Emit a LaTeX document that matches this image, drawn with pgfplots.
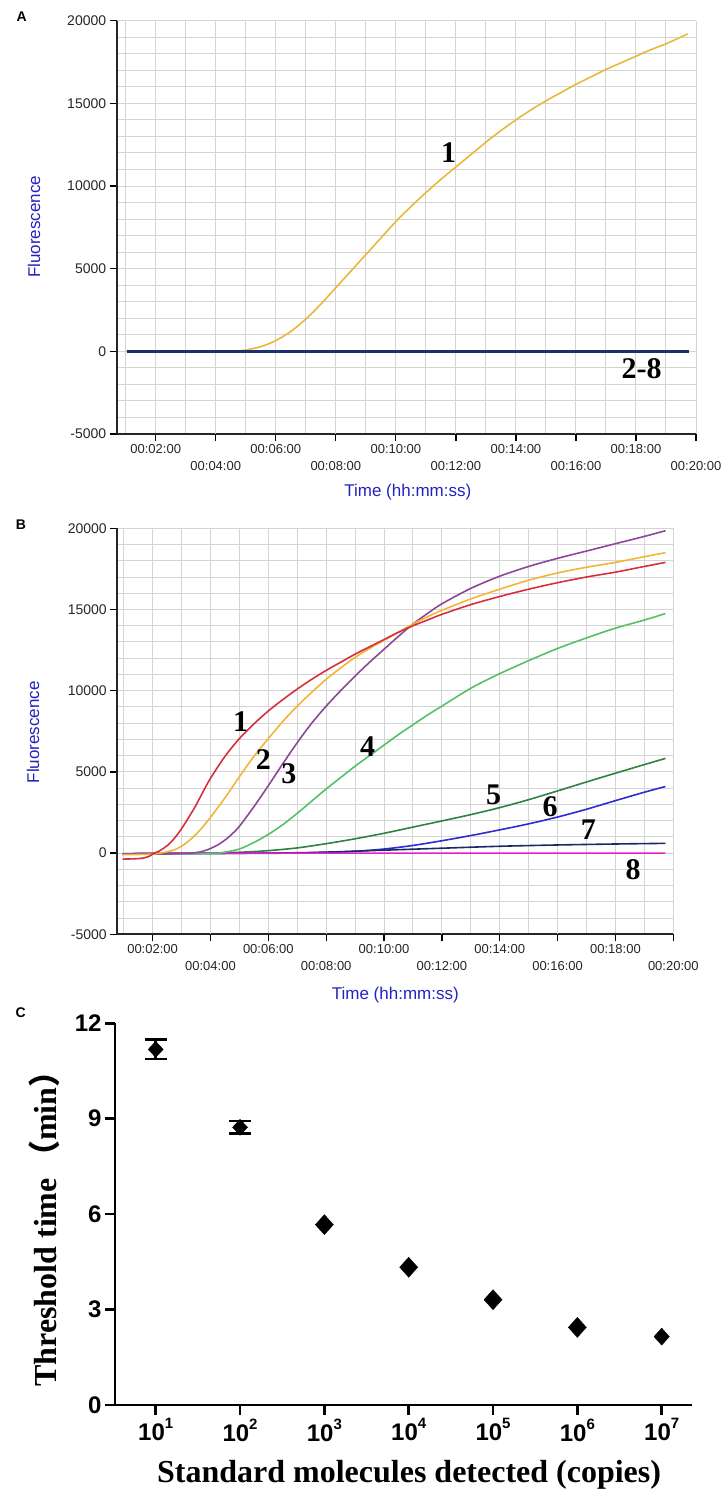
\documentclass[border=0pt]{standalone}
\usepackage{fontspec}
\setmainfont{Liberation Sans}
\newfontfamily\serif{Liberation Serif}
\newfontfamily\cjk{Noto Sans CJK SC}
\usepackage{pgfplots}
\pgfplotsset{compat=1.18}
\definecolor{axblue}{RGB}{35,35,190}
\definecolor{cA}{RGB}{232,184,60}
\definecolor{navyA}{RGB}{28,48,110}
\definecolor{c1}{RGB}{214,48,62}
\definecolor{c2}{RGB}{240,182,52}
\definecolor{c3}{RGB}{140,72,152}
\definecolor{c4}{RGB}{84,192,104}
\definecolor{c5}{RGB}{44,132,64}
\definecolor{c6}{RGB}{44,44,210}
\definecolor{c7}{RGB}{30,40,100}
\definecolor{c8}{RGB}{226,34,200}
\pgfplotsset{rt/.style={
  scale only axis, axis x line=bottom, axis y line=left,
  axis line style={-, line width=2.2pt, black!85},
  xmax=20, ymin=-5000, ymax=20000,
  scaled y ticks=false, scaled x ticks=false,
  xtick={2,6,10,14,18},
  xticklabels={00:02:00,00:06:00,00:10:00,00:14:00,00:18:00},
  extra x ticks={4,8,12,16,20},
  extra x tick labels={00:04:00,00:08:00,00:12:00,00:16:00,00:20:00},
  extra x tick style={xticklabel style={yshift=-17pt}},
  minor xtick={1,2,...,20},
  ytick={-5000,0,5000,10000,15000,20000},
  yticklabels={-5000,0,5000,10000,15000,20000},
  minor ytick={-5000,-4000,...,20000},
  grid=both,
  major grid style={draw=black!17, line width=1pt},
  minor grid style={draw=black!17, line width=1pt},
  tick align=outside, major tick length=7pt, minor tick length=0pt,
  tick style={black, line width=1.3pt},
  xticklabel style={font=\fontsize{13}{13}\selectfont, text=black!85},
  yticklabel style={font=\fontsize{14}{14}\selectfont, text=black!85},
  label style={font=\fontsize{17}{17}\selectfont, text=axblue},
  every axis plot/.append style={line width=1.6pt, smooth},
  clip=false,
}}
\begin{document}
\begin{tikzpicture}[x=1pt,y=1pt]
\path[use as bounding box] (0,0) rectangle (721,1493);
\node[font=\bfseries\fontsize{14}{14}\selectfont] at (21.7,1476.3) {A};
\node[font=\bfseries\fontsize{14}{14}\selectfont] at (21,968) {B};
\node[font=\bfseries\fontsize{14}{14}\selectfont] at (20.7,480.3) {C};
% ---------------- Panel A
\begin{axis}[rt, at={(116.7pt,1059pt)}, anchor=south west,
  width=579.3pt, height=413.3pt, xmin=0.7,
  xlabel={Time (hh:mm:ss)}, ylabel={Fluorescence},
  xlabel style={at={(axis description cs:0.5025,-0.1396)}, anchor=center},
  ylabel style={at={(axis description cs:-0.1428,0.501)}, anchor=center},
]
\addplot[cA] coordinates {(1.0,0)(4.5,0)(4.8,30)(5.0,80)(5.5,280)(6.0,650)(6.5,1200)(7.0,1950)(7.5,2850)(8.0,3850)(8.5,4850)(9.0,5850)(9.5,6850)(10.0,7850)(10.5,8750)(11.0,9600)(11.5,10400)(12.0,11150)(12.5,11900)(13.0,12650)(13.5,13350)(14.0,14000)(14.5,14600)(15.0,15150)(15.5,15650)(16.0,16150)(16.5,16600)(17.0,17050)(17.5,17450)(18.0,17850)(18.5,18250)(19.0,18600)(19.72,19200)};
\addplot[navyA, line width=2.6pt] coordinates {(1.03,0)(19.75,0)};
\node[font=\serif\bfseries\fontsize{30}{30}\selectfont] at (axis cs:11.76,12010) {1};
\node[font=\serif\bfseries\fontsize{30}{30}\selectfont] at (axis cs:18.19,-1040) {2-8};
\end{axis}
% ---------------- Panel B
\begin{axis}[rt, at={(117.3pt,558.7pt)}, anchor=south west,
  width=556pt, height=406pt, xmin=0.78,
  xlabel={Time (hh:mm:ss)}, ylabel={Fluorescence},
  xlabel style={at={(axis description cs:0.5,-0.1495)}, anchor=center},
  ylabel style={at={(axis description cs:-0.1516,0.4975)}, anchor=center},
]
\addplot[c5] coordinates {(0.96,-50)(4.0,0)(5.0,50)(6.0,150)(7.0,320)(8.0,580)(9.0,880)(10.0,1220)(11.0,1600)(12.0,1980)(13.0,2370)(14.0,2800)(15.0,3290)(16.0,3830)(17.0,4380)(18.0,4920)(19.0,5450)(19.73,5830)};
\addplot[c6] coordinates {(0.96,-50)(6.0,-10)(7.0,0)(8.0,40)(9.0,110)(10.0,250)(11.0,470)(12.0,760)(13.0,1080)(14.0,1430)(15.0,1800)(16.0,2220)(17.0,2700)(18.0,3230)(19.0,3750)(19.73,4100)};
\addplot[c7] coordinates {(0.96,-30)(6.0,0)(8.0,60)(10.0,180)(12.0,300)(14.0,420)(16.0,500)(18.0,560)(19.73,600)};
\addplot[c8] coordinates {(0.96,-60)(2.0,-20)(5.0,0)(19.73,0)};
\addplot[c4] coordinates {(0.96,-50)(4.0,-10)(4.5,60)(5.0,250)(5.5,650)(6.0,1150)(6.5,1750)(7.0,2450)(7.5,3200)(8.0,3950)(8.5,4650)(9.0,5350)(9.5,6000)(10.0,6650)(10.5,7300)(11.0,7900)(11.5,8500)(12.0,9050)(13.0,10150)(14.0,11050)(15.0,11850)(16.0,12600)(17.0,13250)(18.0,13850)(19.0,14350)(19.73,14750)};
\addplot[c3] coordinates {(0.96,-50)(3.0,-20)(3.5,30)(3.75,120)(4.0,280)(4.25,500)(4.5,800)(4.75,1180)(5.0,1650)(5.5,2850)(6.0,4150)(6.5,5500)(7.0,6800)(7.5,8000)(8.0,9050)(8.5,10000)(9.0,10900)(9.5,11750)(10.0,12550)(10.5,13350)(11.0,14100)(11.5,14750)(12.0,15350)(13.0,16300)(14.0,17050)(15.0,17650)(16.0,18150)(17.0,18600)(18.0,19050)(19.0,19500)(19.73,19850)};
\addplot[c2] coordinates {(0.96,-100)(2.0,-60)(2.5,80)(2.75,200)(3.0,420)(3.25,750)(3.5,1150)(3.75,1650)(4.0,2200)(4.5,3400)(5.0,4700)(5.5,5950)(6.0,7050)(6.5,8100)(7.0,9050)(7.5,9900)(8.0,10700)(8.5,11400)(9.0,12050)(9.5,12600)(10.0,13100)(10.5,13600)(11.0,14100)(11.5,14550)(12.0,14950)(13.0,15650)(14.0,16250)(15.0,16800)(16.0,17250)(17.0,17600)(18.0,17900)(19.0,18250)(19.73,18500)};
\addplot[c1] coordinates {(0.96,-370)(1.4,-350)(1.7,-300)(1.9,-180)(2.0,-60)(2.25,150)(2.5,450)(2.75,900)(3.0,1500)(3.25,2200)(3.5,2950)(3.75,3800)(4.0,4600)(4.5,5950)(5.0,7050)(5.5,7950)(6.0,8750)(6.5,9450)(7.0,10100)(7.5,10700)(8.0,11250)(8.5,11750)(9.0,12250)(9.5,12700)(10.0,13150)(10.5,13600)(11.0,14000)(11.5,14350)(12.0,14700)(13.0,15300)(14.0,15800)(15.0,16250)(16.0,16650)(17.0,17000)(18.0,17300)(19.0,17650)(19.73,17900)};
\node[font=\serif\bfseries\fontsize{30}{30}\selectfont] at (axis cs:5.04,8080) {1};
\node[font=\serif\bfseries\fontsize{30}{30}\selectfont] at (axis cs:5.83,5730) {2};
\node[font=\serif\bfseries\fontsize{30}{30}\selectfont] at (axis cs:6.71,4910) {3};
\node[font=\serif\bfseries\fontsize{30}{30}\selectfont] at (axis cs:9.43,6540) {4};
\node[font=\serif\bfseries\fontsize{30}{30}\selectfont] at (axis cs:13.79,3580) {5};
\node[font=\serif\bfseries\fontsize{30}{30}\selectfont] at (axis cs:15.74,2860) {6};
\node[font=\serif\bfseries\fontsize{30}{30}\selectfont] at (axis cs:17.06,1430) {7};
\node[font=\serif\bfseries\fontsize{30}{30}\selectfont] at (axis cs:18.61,-1020) {8};
\end{axis}
% ---------------- Panel C
\begin{axis}[at={(115pt,88pt)}, anchor=south west, scale only axis,
  width=576.7pt, height=381.7pt,
  xmode=log, xmin=3.29, xmax=2.27e7, ymin=0, ymax=12,
  axis x line=bottom, axis y line=left,
  axis line style={-, line width=2.8pt, black},
  xtick={1e1,1e2,1e3,1e4,1e5,1e6,1e7},
  xticklabels={10\raisebox{0.5em}{\fontsize{15}{15}\selectfont 1},
               10\raisebox{0.5em}{\fontsize{15}{15}\selectfont 2},
               10\raisebox{0.5em}{\fontsize{15}{15}\selectfont 3},
               10\raisebox{0.5em}{\fontsize{15}{15}\selectfont 4},
               10\raisebox{0.5em}{\fontsize{15}{15}\selectfont 5},
               10\raisebox{0.5em}{\fontsize{15}{15}\selectfont 6},
               10\raisebox{0.5em}{\fontsize{15}{15}\selectfont 7}},
  ytick={0,3,6,9,12}, yticklabels={0,3,6,9,12},
  xminorticks=false, yminorticks=false,
  tick align=outside, major tick length=10pt,
  tick style={black, line width=2.5pt},
  tick label style={font=\bfseries\fontsize{24}{24}\selectfont},
  xlabel={Standard molecules detected (copies)},
  ylabel={Threshold time\,{\cjk （}min{\cjk ）}},
  label style={font=\serif\bfseries\fontsize{32}{32}\selectfont},
  xlabel style={at={(axis description cs:0.51,-0.1834)}, anchor=center},
  ylabel style={at={(axis description cs:-0.123,0.482)}, anchor=center},
  clip=false,
]
\addplot[only marks, mark=diamond*, mark size=8pt, mark options={xscale=1.25, fill=black, draw=black},
  error bars/.cd, y dir=both, y explicit, error mark=|,
  error bar style={line width=2.5pt, black},
  error mark options={mark size=11pt, line width=2.5pt, black}]
  coordinates {(1e1,11.18) +- (0,0.31) (1e2,8.73) +- (0,0.2)};
\addplot[only marks, mark=diamond*, mark size=10pt, mark options={xscale=1.2, fill=black, draw=black}]
  coordinates {(1e3,5.67)(1e4,4.33)(1e5,3.31)(1e6,2.44)};
\addplot[only marks, mark=diamond*, mark size=8.5pt, mark options={xscale=1.2, fill=black, draw=black}]
  coordinates {(1e7,2.15)};
\end{axis}
\end{tikzpicture}
\end{document}
